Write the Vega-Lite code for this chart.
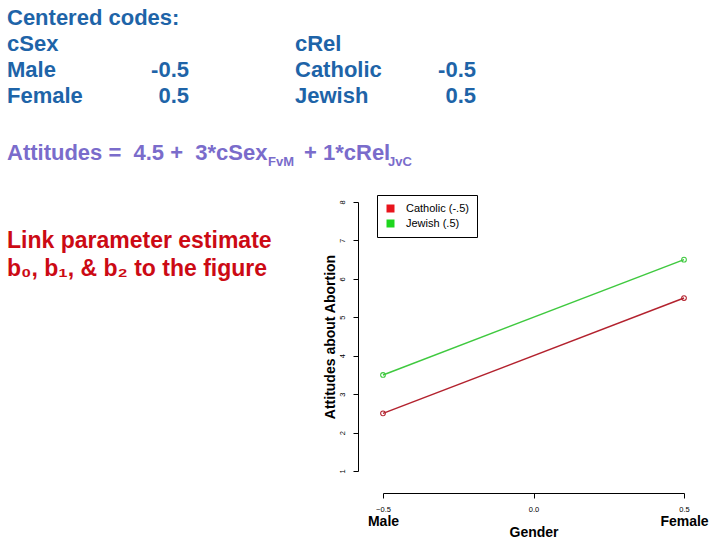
{
  "$schema": "https://vega.github.io/schema/vega-lite/v6.json",
  "width": 301,
  "height": 269,
  "autosize": {"type": "none"},
  "padding": {"left": 383, "top": 202, "right": 36, "bottom": 69},
  "background": "white",
  "config": {"view": {"stroke": null}, "font": "Liberation Sans"},
  "datasets": {
    "means": [
      {"gender": -0.5, "religion": "Catholic (-.5)", "attitude": 2.5},
      {"gender": 0.5, "religion": "Catholic (-.5)", "attitude": 5.5},
      {"gender": -0.5, "religion": "Jewish (.5)", "attitude": 3.5},
      {"gender": 0.5, "religion": "Jewish (.5)", "attitude": 6.5}
    ]
  },
  "resolve": {"axis": {"x": "independent"}},
  "layer": [
    {
      "data": {"name": "means"},
      "layer": [
        {
          "mark": {"type": "square", "size": 64, "opacity": 0},
          "encoding": {
            "x": {
              "field": "gender", "type": "quantitative",
              "scale": {"domain": [-0.5, 0.5], "nice": false, "zero": false},
              "axis": {"orient": "bottom", "offset": 22, "values": [-0.5, 0, 0.5], "format": ".1f", "grid": false,
                "domainColor": "black", "tickColor": "black", "tickSize": 5, "labelFontSize": 7.5,
                "labelColor": "black", "labelPadding": 7, "labelFlush": false, "labelOverlap": false, "title": null}
            },
            "y": {
              "field": "attitude", "type": "quantitative",
              "scale": {"domain": [1, 8], "nice": false, "zero": false},
              "axis": {"offset": 25, "tickCount": 8, "tickMinStep": 1, "format": "d", "grid": false,
                "domainColor": "black", "tickColor": "black", "tickSize": 5, "labelFontSize": 7.5,
                "labelColor": "black", "labelAngle": -90, "labelAlign": "center", "labelBaseline": "bottom",
                "labelPadding": 7, "labelFlush": false, "labelOverlap": false, "labelBound": false,
                "title": "Attitudes about Abortion", "titleFontSize": 14, "titleFontWeight": "bold",
                "titleColor": "black", "titleX": -24, "titleY": 134.5, "titleBaseline": "alphabetic", "titleAngle": 270}
            },
            "fill": {
              "field": "religion", "type": "nominal",
              "scale": {"domain": ["Catholic (-.5)", "Jewish (.5)"], "range": ["#E8141C", "#1ED61E"]},
              "legend": {"orient": "none", "legendX": -6, "legendY": -7, "title": null,
                "symbolType": "square", "symbolSize": 64, "symbolStrokeWidth": 0, "symbolOpacity": 1,
                "labelFontSize": 11, "labelOffset": 10, "labelColor": "black", "padding": 8,
                "rowPadding": 3, "strokeColor": "black", "fillColor": "white"}
            }
          }
        },
        {
          "mark": {"type": "line", "strokeWidth": 1.5},
          "encoding": {
            "x": {"field": "gender", "type": "quantitative"},
            "y": {"field": "attitude", "type": "quantitative"},
            "color": {
              "field": "religion", "type": "nominal",
              "scale": {"domain": ["Catholic (-.5)", "Jewish (.5)"], "range": ["#B3222E", "#3FC93F"]},
              "legend": null
            }
          }
        },
        {
          "mark": {"type": "point", "filled": false, "size": 22, "strokeWidth": 1.1, "opacity": 1},
          "encoding": {
            "x": {"field": "gender", "type": "quantitative"},
            "y": {"field": "attitude", "type": "quantitative"},
            "color": {"field": "religion", "type": "nominal", "legend": null}
          }
        }
      ]
    },
    {
      "data": {"name": "means"},
      "transform": [{"filter": "false"}],
      "mark": {"type": "point"},
      "encoding": {
        "x": {
          "field": "gender", "type": "quantitative",
          "axis": {"orient": "bottom", "offset": 22, "values": [-0.5, 0.5], "labelExpr": "datum.value < 0 ? 'Male' : 'Female'",
            "domain": false, "ticks": false, "tickSize": 0, "grid": false, "labelFontSize": 14,
            "labelFontWeight": "bold", "labelColor": "black", "labelPadding": 21, "labelFlush": false,
            "labelOverlap": false,
            "title": "Gender", "titleFontSize": 14, "titleFontWeight": "bold", "titleColor": "black",
            "titleY": 43, "titleBaseline": "alphabetic"}
        }
      }
    },
    {
      "data": {"values": [{"t": ["Centered codes:", "cSex", "Male", "Female"]}]},
      "mark": {"type": "text", "align": "left", "baseline": "alphabetic", "x": -376, "y": -177,
        "lineHeight": 26, "fontSize": 22, "fontWeight": "bold", "color": "#1E64A8"},
      "encoding": {"text": {"field": "t"}}
    },
    {
      "data": {"values": [{"t": ["-0.5", "0.5"]}]},
      "mark": {"type": "text", "align": "right", "baseline": "alphabetic", "x": -194, "y": -125,
        "lineHeight": 26, "fontSize": 22, "fontWeight": "bold", "color": "#1E64A8"},
      "encoding": {"text": {"field": "t"}}
    },
    {
      "data": {"values": [{"t": ["cRel", "Catholic", "Jewish"]}]},
      "mark": {"type": "text", "align": "left", "baseline": "alphabetic", "x": -88, "y": -151,
        "lineHeight": 26, "fontSize": 22, "fontWeight": "bold", "color": "#1E64A8"},
      "encoding": {"text": {"field": "t"}}
    },
    {
      "data": {"values": [{"t": ["-0.5", "0.5"]}]},
      "mark": {"type": "text", "align": "right", "baseline": "alphabetic", "x": 93, "y": -125,
        "lineHeight": 26, "fontSize": 22, "fontWeight": "bold", "color": "#1E64A8"},
      "encoding": {"text": {"field": "t"}}
    },
    {
      "data": {"values": [{"t": "cSex"}]},
      "mark": {"type": "rule", "x": -376, "x2": -325, "y": -148, "strokeWidth": 2, "color": "#1E64A8"},
      "encoding": {}
    },
    {
      "data": {"values": [{"t": "Rel"}]},
      "mark": {"type": "rule", "x": -78, "x2": -41, "y": -148, "strokeWidth": 2, "color": "#1E64A8"},
      "encoding": {}
    },
    {
      "data": {"values": [{"t": "Attitudes = \u00a04.5 + \u00a03*cSex"}]},
      "mark": {"type": "text", "align": "left", "baseline": "alphabetic", "x": -376, "y": -42,
        "fontSize": 22, "fontWeight": "bold", "color": "#7A6CCB"},
      "encoding": {"text": {"field": "t"}}
    },
    {
      "data": {"values": [{"t": "FvM"}]},
      "mark": {"type": "text", "align": "left", "baseline": "alphabetic", "x": -115, "y": -36,
        "fontSize": 13, "fontWeight": "bold", "color": "#7A6CCB"},
      "encoding": {"text": {"field": "t"}}
    },
    {
      "data": {"values": [{"t": "+ 1*cRel"}]},
      "mark": {"type": "text", "align": "left", "baseline": "alphabetic", "x": -79, "y": -42,
        "fontSize": 22, "fontWeight": "bold", "color": "#7A6CCB"},
      "encoding": {"text": {"field": "t"}}
    },
    {
      "data": {"values": [{"t": "JvC"}]},
      "mark": {"type": "text", "align": "left", "baseline": "alphabetic", "x": 5, "y": -36,
        "fontSize": 13, "fontWeight": "bold", "color": "#7A6CCB"},
      "encoding": {"text": {"field": "t"}}
    },
    {
      "data": {"values": [{"t": ["Link parameter estimate", "b₀, b₁, & b₂ to the figure"]}]},
      "mark": {"type": "text", "align": "left", "baseline": "alphabetic", "x": -376, "y": 46,
        "lineHeight": 28, "fontSize": 23, "fontWeight": "bold", "color": "#CC0A14"},
      "encoding": {"text": {"field": "t"}}
    }
  ]
}
